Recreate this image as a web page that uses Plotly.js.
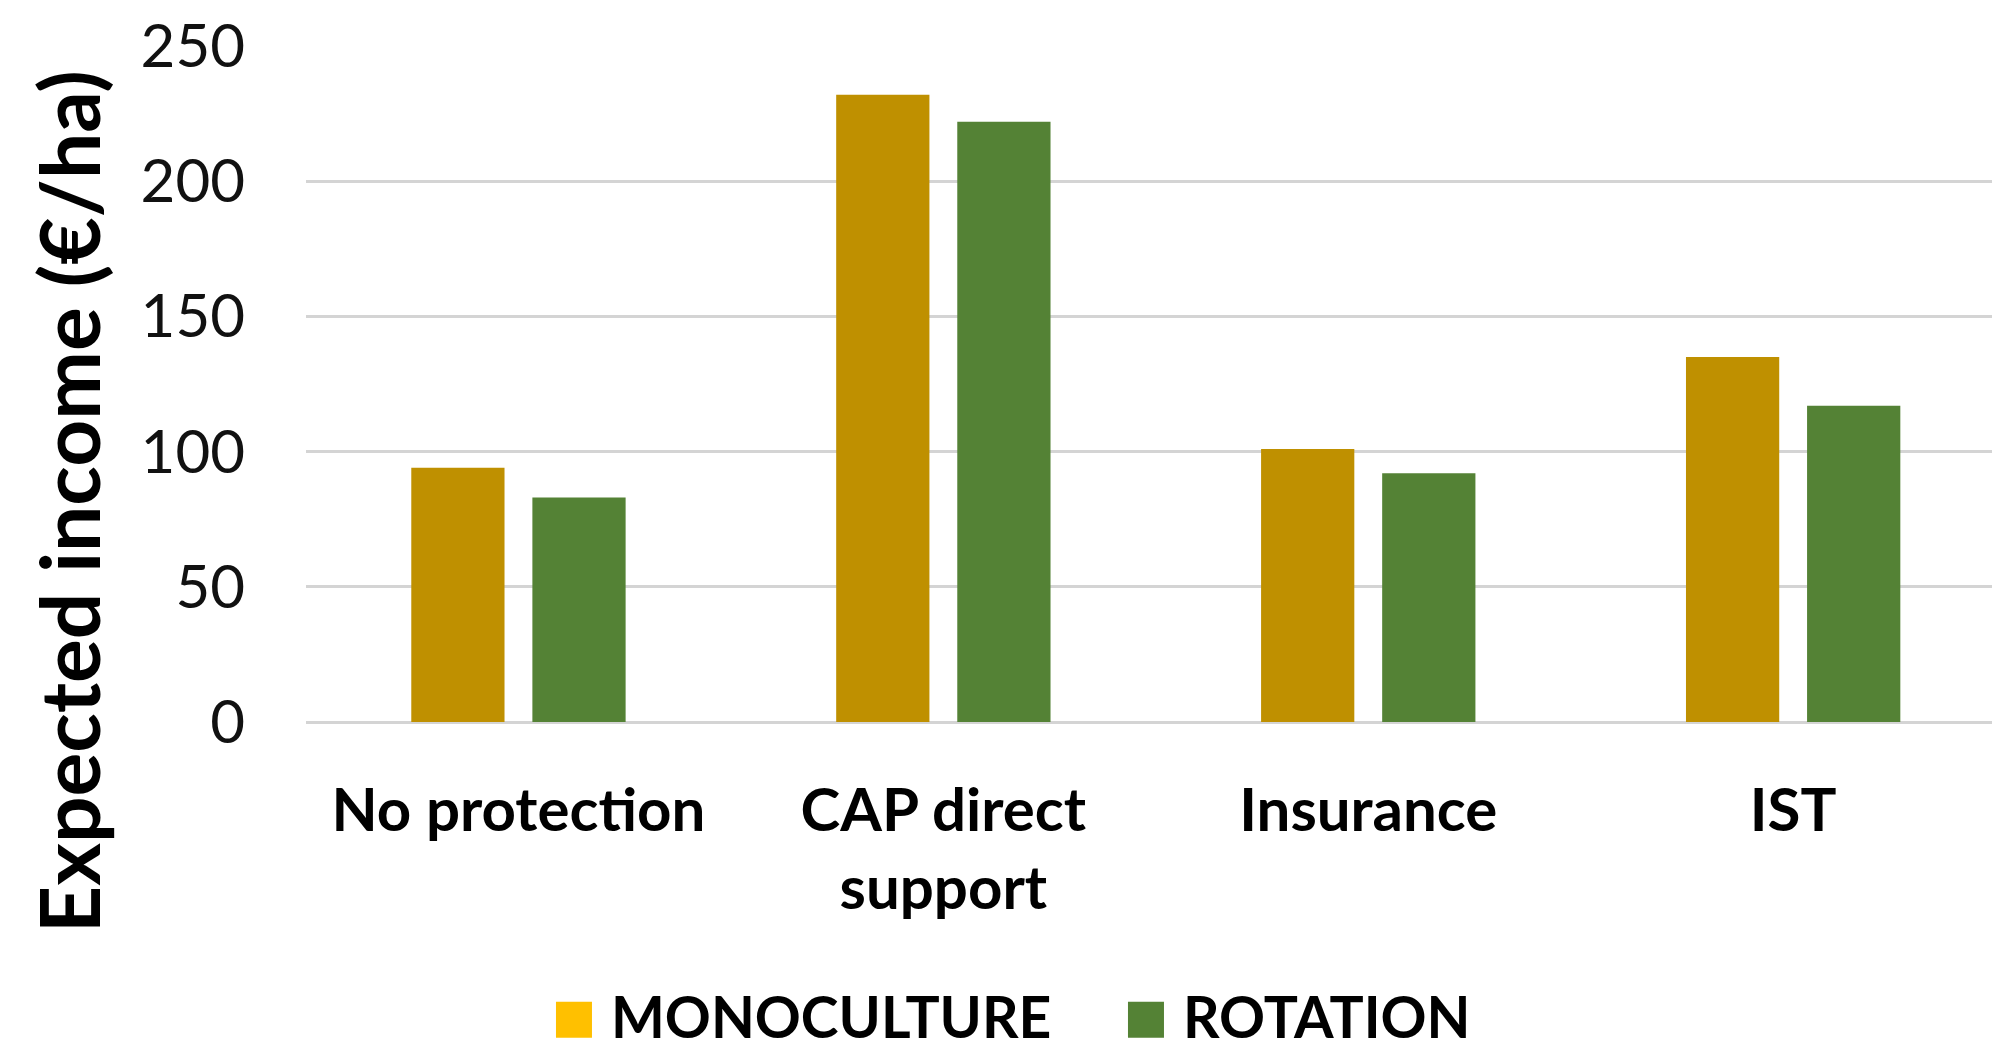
<!DOCTYPE html>
<html>
<head>
<meta charset="utf-8">
<script src="https://cdn.plot.ly/plotly-3.0.1.min.js"></script>
<style>html,body{margin:0;padding:0;background:#fff;}#chart{width:1992px;height:1051px;}</style>
</head>
<body>
<div id="chart"></div>
<script>
// ---- data ----
const categories = ["No protection", "CAP direct<br>support", "Insurance", "IST"];
const monoculture = [94, 232, 101, 135];
const rotation = [83, 222, 92, 117];
const seriesNames = ["MONOCULTURE", "ROTATION"];
const yTicks = [0, 50, 100, 150, 200, 250];
const yTitle = "Expected income (€/ha)";

// ---- styles ----
const monoBarColor = "#BF9000";
const monoLegendColor = "#FFC000";
const rotColor = "#548235";
const gridColor = "#D4D4D4";
const FONT = "Lato, 'Open Sans', sans-serif";

const traces = [
  {type: "bar", name: seriesNames[0], x: categories, y: monoculture,
   marker: {color: monoBarColor}, hoverinfo: "x+y"},
  {type: "bar", name: seriesNames[1], x: categories, y: rotation,
   marker: {color: rotColor}, hoverinfo: "x+y"}
];

const layout = {
  width: 1992, height: 1051,
  paper_bgcolor: "#fff", plot_bgcolor: "#fff",
  margin: {l: 306, r: 0, t: 46, b: 329, autoexpand: false},
  barmode: "group", bargap: 0.43, bargroupgap: 0.23,
  font: {family: FONT, color: "#000"},
  xaxis: {
    type: "category", range: [-0.5, 3.468], fixedrange: true,
    showgrid: false, zeroline: false, showline: false, ticks: "",
    tickfont: {family: FONT, size: 60, color: "#000", weight: "bold"},
    ticklabelstandoff: 48, automargin: false
  },
  yaxis: {
    range: [0, 250], tickvals: yTicks, ticktext: yTicks.map(String),
    showgrid: true, gridcolor: gridColor, gridwidth: 3,
    zeroline: true, zerolinecolor: gridColor, zerolinewidth: 3,
    showline: false, ticks: "",
    tickfont: {family: FONT, size: 60, color: "#111"},
    ticklabelstandoff: 60, automargin: false
  },
  showlegend: true,
  legend: {
    orientation: "h", x: 0.1453, xanchor: "left", y: -0.435, yanchor: "middle",
    font: {family: FONT, size: 57, color: "#000", weight: "bold"},
    itemwidth: 50, entrywidth: 507, bgcolor: "rgba(0,0,0,0)"
  },
  annotations: [{
    text: yTitle, textangle: -90, showarrow: false,
    xref: "paper", yref: "paper", x: (68 - 306) / 1686, y: (722 - 502) / 676,
    xanchor: "center", yanchor: "middle",
    font: {family: FONT, size: 82, color: "#000", weight: "bold"}
  }]
};

function enlargeLegendSymbols(gd) {
  gd.querySelectorAll(".legend .traces").forEach(function(item) {
    const text = item.querySelector("text.legendtext");
    let tx = 60, ty = 20;
    if (text) {
      const ax = parseFloat(text.getAttribute("x"));
      const ay = parseFloat(text.getAttribute("y"));
      if (!isNaN(ax)) tx = ax;
      if (!isNaN(ay)) ty = ay;
    }
    const isMono = text && text.textContent.trim() === seriesNames[0];
    item.querySelectorAll(".legendpoints path").forEach(function(p) {
      const d = p.getAttribute("d") || "";
      if (!d) return;
      const pm = p.parentNode.getCTM(), im = item.getCTM();
      const dx = (pm && im) ? pm.e - im.e : 0;
      const dy = (pm && im) ? pm.f - im.f : 0;
      const cx = tx - 19 - 18 - dx;
      const cy = ty - 18 - dy;
      p.setAttribute("transform", "translate(" + cx + "," + cy + ") scale(3)");
      p.style.strokeWidth = "0px";
      if (isMono) p.style.fill = monoLegendColor;
    });
  });
}

Plotly.newPlot("chart", traces, layout, {displayModeBar: false, staticPlot: true}).then(function(gd) {
  enlargeLegendSymbols(gd);
  gd.on("plotly_afterplot", function() { enlargeLegendSymbols(gd); });
});
</script>
</body>
</html>
